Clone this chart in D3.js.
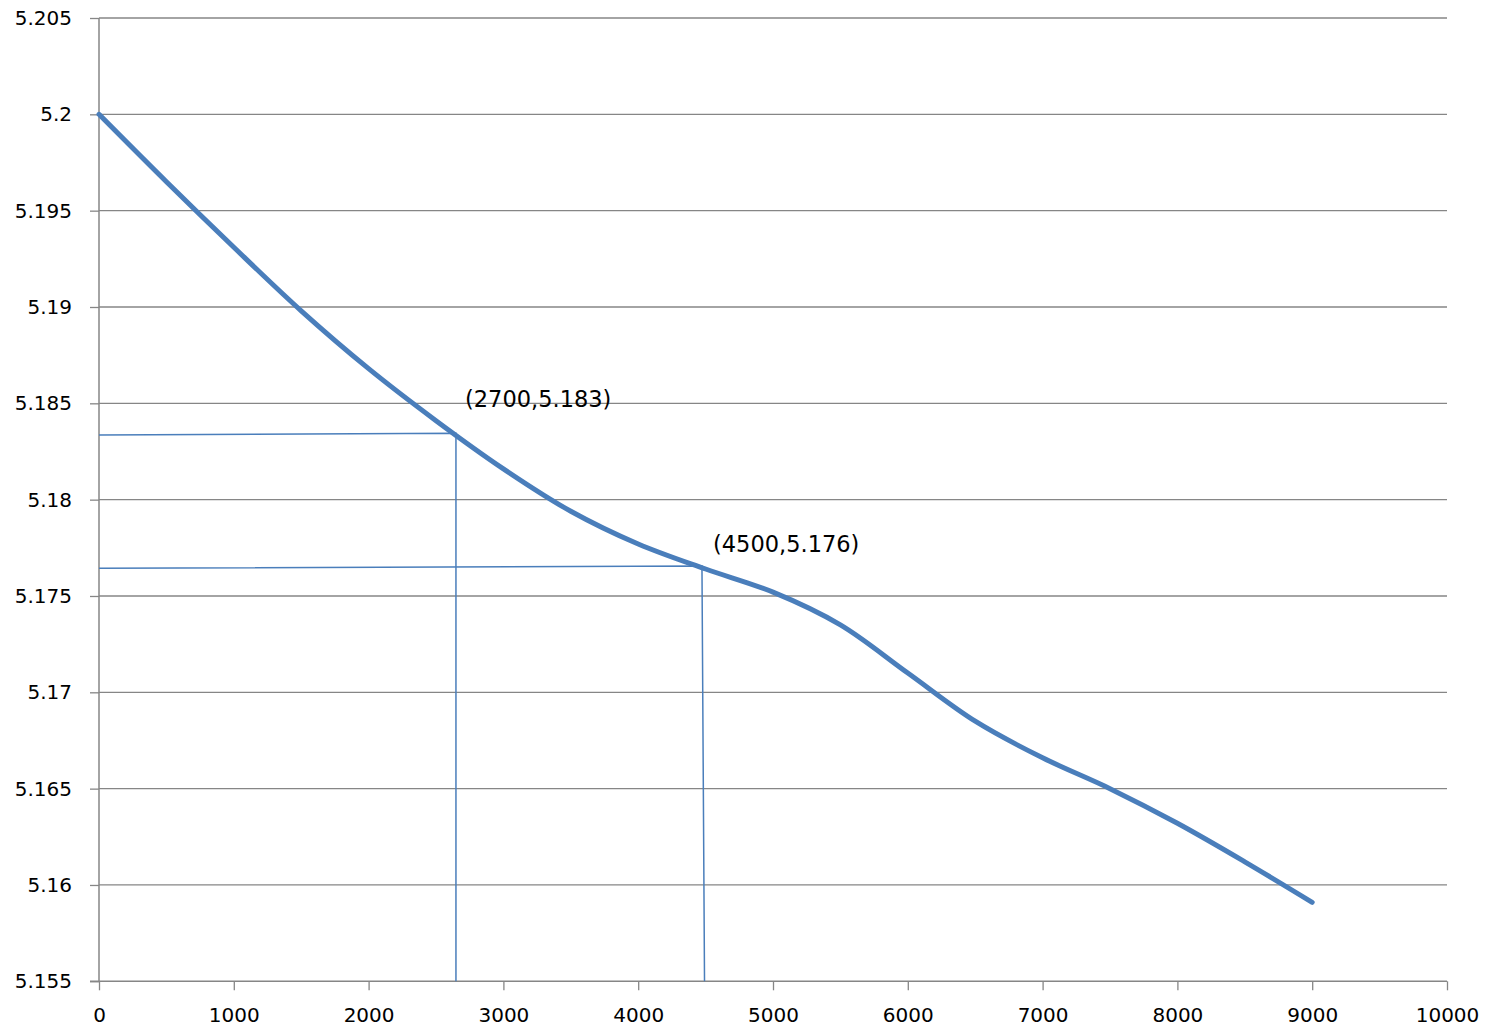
<!DOCTYPE html>
<html>
<head>
<meta charset="utf-8">
<script src="https://cdn.jsdelivr.net/npm/d3@7/dist/d3.min.js"></script>
<style>
  html, body { margin: 0; padding: 0; background: #fff; }
  svg { display: block; }
  text { font-family: "DejaVu Sans", sans-serif; fill: #000; }
</style>
</head>
<body>
<svg id="chart" width="1492" height="1032"></svg>
<script>
// ---- data ----
const xValues = [0, 500, 1000, 1500, 2000, 2500, 3000, 3500, 4000, 4500, 5000, 5500, 6000, 6500, 7000, 7500, 8000, 8500, 9000];
const yValues = [5.2, 5.1965, 5.1931, 5.1898, 5.1868, 5.1841, 5.1816, 5.1794, 5.1777, 5.1764, 5.1752, 5.1735, 5.1710, 5.1685, 5.1666, 5.1650, 5.1632, 5.1612, 5.1591];

// guide lines
const guide1X = [0, 2648, 2648];
const guide1Y = [5.18335, 5.18345, 5.155];
const guide2X = [0, 4473, 4492];
const guide2Y = [5.17644, 5.17655, 5.155];

const annotationTexts = ["(2700,5.183)", "(4500,5.176)"];
const annotationX = [2715, 4555];
const annotationY = [5.1848, 5.1773];

const xTicks = [0, 1000, 2000, 3000, 4000, 5000, 6000, 7000, 8000, 9000, 10000];
const yTicks = [5.155, 5.16, 5.165, 5.17, 5.175, 5.18, 5.185, 5.19, 5.195, 5.2, 5.205];

// ---- layout ----
const mLeft = 99, mRight = 1447, mTop = 18, mBottom = 981.3;
const svg = d3.select("#chart");
const x = d3.scaleLinear().domain([0, 10000]).range([mLeft, mRight]);
const y = d3.scaleLinear().domain([5.155, 5.205]).range([mBottom, mTop]);

const axisColor = "#868686";
const lineColor = "#4a7ebb";

// gridlines
svg.append("g").selectAll("line").data(yTicks.filter(d => d !== 5.155)).join("line")
  .attr("x1", mLeft).attr("x2", mRight)
  .attr("y1", d => y(d)).attr("y2", d => y(d))
  .attr("stroke", axisColor).attr("stroke-width", 1.3);

// y axis
const yAxis = d3.axisLeft(y).tickValues(yTicks).tickSize(9).tickPadding(18)
  .tickFormat(d => String(+d.toFixed(3)));
const gy = svg.append("g").attr("transform", `translate(${mLeft},0)`).call(yAxis);
gy.select(".domain").remove();
gy.selectAll(".tick line").attr("stroke", axisColor).attr("stroke-width", 1.3);
gy.selectAll(".tick text").style("font-size", "20px").style("font-family", "DejaVu Sans");
gy.append("line").attr("x1", 0).attr("x2", 0).attr("y1", mTop).attr("y2", mBottom)
  .attr("stroke", axisColor).attr("stroke-width", 1.5);

// x axis
const xAxis = d3.axisBottom(x).tickValues(xTicks).tickSize(9).tickPadding(18)
  .tickFormat(d3.format("d"));
const gx = svg.append("g").attr("transform", `translate(0,${mBottom})`).call(xAxis);
gx.select(".domain").remove();
gx.selectAll(".tick line").attr("stroke", axisColor).attr("stroke-width", 1.3);
gx.selectAll(".tick text").style("font-size", "20px").style("font-family", "DejaVu Sans");
gx.append("line").attr("x1", mLeft - 9).attr("x2", mRight).attr("y1", 0).attr("y2", 0)
  .attr("stroke", axisColor).attr("stroke-width", 1.5);

// guide lines
const guideLine = d3.line().x(d => x(d[0])).y(d => y(d[1]));
[[guide1X, guide1Y], [guide2X, guide2Y]].forEach(([gxv, gyv]) => {
  svg.append("path")
    .attr("d", guideLine(gxv.map((v, i) => [v, gyv[i]])))
    .attr("fill", "none").attr("stroke", lineColor).attr("stroke-width", 1.5);
});

// main curve
const curve = d3.line().x(d => x(d[0])).y(d => y(d[1])).curve(d3.curveCatmullRom.alpha(0.5));
svg.append("path")
  .attr("d", curve(xValues.map((v, i) => [v, yValues[i]])))
  .attr("fill", "none").attr("stroke", lineColor).attr("stroke-width", 5)
  .attr("stroke-linecap", "round").attr("stroke-linejoin", "round");

// annotations
svg.append("g").selectAll("text").data(annotationTexts).join("text")
  .attr("x", (d, i) => x(annotationX[i]))
  .attr("y", (d, i) => y(annotationY[i]))
  .style("font-size", "22.5px")
  .text(d => d);
</script>
</body>
</html>
